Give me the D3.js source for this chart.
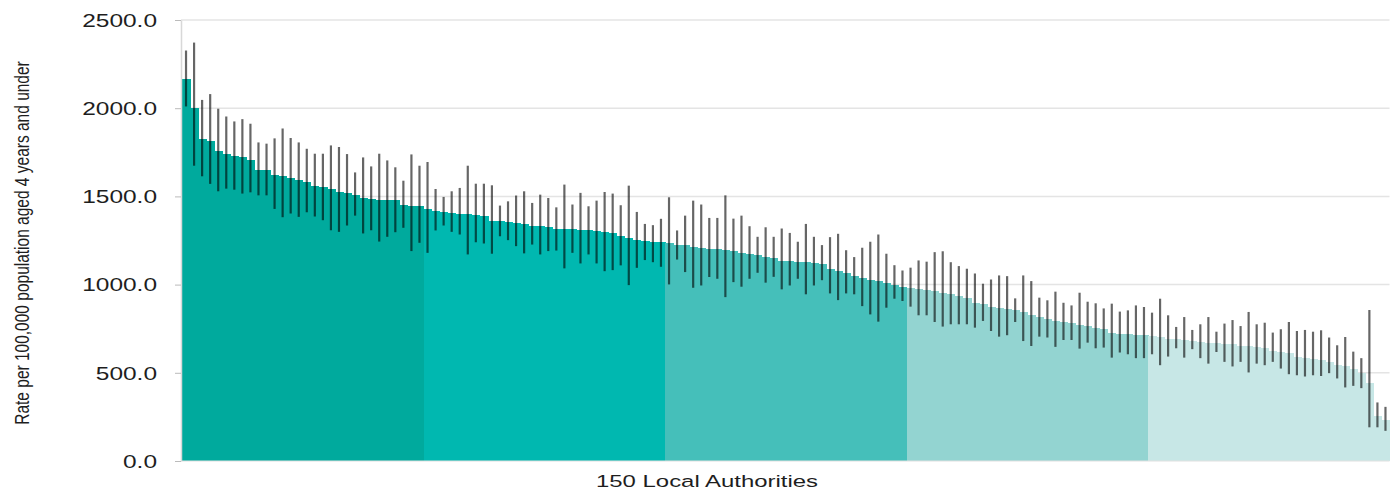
<!DOCTYPE html>
<html>
<head>
<meta charset="utf-8">
<script src="https://cdn.jsdelivr.net/npm/d3@7"></script>
<style>
  html, body { margin: 0; padding: 0; background: #fff; }
  svg { display: block; }
  text { font-family: "Liberation Sans", Arial, sans-serif; }
</style>
</head>
<body>
<svg id="chart" width="1391" height="495"></svg>
<script>
// ---- data ----
const yTicks = [0, 500, 1000, 1500, 2000, 2500];
const xLabel = "150 Local Authorities";
const yLabel = "Rate per 100,000 population aged 4 years and under";
const groupColors = ["#00aa9d", "#00b8b0", "#45bfba", "#93d4d1", "#c7e7e6"];

const rates = [
  2165, 2000, 1825, 1816, 1755, 1742, 1727, 1721, 1708, 1652,
  1648, 1619, 1618, 1605, 1591, 1582, 1561, 1554, 1542, 1525,
  1522, 1510, 1491, 1484, 1480, 1479, 1477, 1450, 1448, 1444,
  1429, 1420, 1412, 1406, 1403, 1399, 1395, 1391, 1359, 1358,
  1356, 1350, 1346, 1335, 1331, 1327, 1318, 1316, 1313, 1311,
  1307, 1303, 1297, 1290, 1274, 1265, 1252, 1246, 1242, 1240,
  1233, 1227, 1222, 1214, 1208, 1203, 1199, 1195, 1188, 1180,
  1175, 1167, 1158, 1152, 1134, 1131, 1129, 1127, 1124, 1114,
  1090, 1076, 1063, 1048, 1035, 1025, 1020, 1007, 995, 986,
  979, 973, 969, 963, 954, 945, 935, 926, 898, 888,
  875, 869, 864, 856, 847, 826, 816, 803, 794, 788,
  781, 771, 765, 756, 747, 724, 720, 718, 717, 716,
  706, 704, 694, 690, 686, 680, 672, 671, 667, 666,
  662, 653, 652, 648, 643, 624, 618, 611, 587, 583,
  577, 573, 562, 545, 536, 520, 500, 440, 255, 230
];

const upper = [
  2327, 2372, 2047, 2080, 1997, 1953, 1925, 1938, 1912, 1806,
  1799, 1829, 1885, 1831, 1806, 1770, 1742, 1742, 1789, 1780,
  1740, 1636, 1721, 1670, 1742, 1704, 1665, 1589, 1738, 1674,
  1695, 1542, 1497, 1529, 1548, 1674, 1572, 1572, 1563, 1448,
  1472, 1505, 1529, 1463, 1510, 1491, 1438, 1567, 1454, 1520,
  1444, 1476, 1525, 1516, 1450, 1561, 1412, 1344, 1337, 1373,
  1495, 1307, 1391, 1476, 1454, 1378, 1378, 1506, 1374, 1391,
  1331, 1271, 1325, 1271, 1318, 1293, 1243, 1344, 1271, 1224,
  1269, 1288, 1195, 1156, 1209, 1243, 1284, 1175, 1110, 1080,
  1096, 1137, 1130, 1184, 1189, 1127, 1105, 1090, 1063, 1005,
  1029, 1052, 1048, 922, 1052, 1020, 926, 911, 960, 897,
  882, 954, 903, 894, 865, 892, 847, 854, 882, 873,
  841, 920, 826, 760, 816, 743, 775, 816, 733, 779,
  799, 765, 845, 775, 784, 728, 747, 788, 737, 743,
  733, 741, 700, 656, 703, 620, 583, 856, 332, 307
];

const lower = [
  2010, 1674, 1614, 1571, 1529, 1544, 1538, 1516, 1523, 1506,
  1506, 1429, 1382, 1403, 1384, 1410, 1386, 1365, 1308, 1299,
  1335, 1391, 1290, 1308, 1244, 1271, 1297, 1322, 1190, 1237,
  1180, 1307, 1335, 1299, 1284, 1171, 1240, 1233, 1175, 1274,
  1252, 1218, 1177, 1227, 1171, 1190, 1193, 1092, 1180, 1120,
  1171, 1120, 1076, 1082, 1109, 997, 1095, 1139, 1127, 1101,
  1001, 1142, 1071, 982, 995, 1043, 1033, 929, 1014, 988,
  1033, 1067, 1011, 1044, 973, 995, 1033, 945, 995, 1025,
  950, 912, 950, 945, 878, 831, 790, 869, 920, 907,
  875, 826, 826, 788, 762, 775, 775, 775, 756, 794,
  737, 705, 713, 788, 680, 652, 705, 700, 647, 686,
  686, 637, 671, 639, 643, 586, 615, 605, 583, 583,
  605, 543, 592, 639, 586, 634, 583, 552, 618, 562,
  536, 562, 502, 552, 543, 562, 524, 492, 486, 479,
  486, 482, 498, 468, 417, 426, 413, 191, 191, 171
];

// ---- chart ----
const svg = d3.select("#chart");
const mLeft = 182, mRight = 1389.5, mTop = 20, mBottom = 461;
const textScale = 1.4;

const x = d3.scaleBand().domain(d3.range(rates.length)).range([mLeft, mRight]).padding(0);
const y = d3.scaleLinear().domain([0, 2500]).range([mBottom, mTop]);

// gridlines
svg.append("g").selectAll("line").data(yTicks.filter(d => d > 0)).join("line")
  .attr("x1", mLeft - 1).attr("x2", mRight)
  .attr("y1", d => y(d)).attr("y2", d => y(d))
  .attr("stroke", "#e4e4e4").attr("stroke-width", 1.5);

// bars
svg.append("g").attr("shape-rendering", "crispEdges")
  .selectAll("rect").data(rates).join("rect")
  .attr("x", (d, i) => x(i))
  .attr("width", x.bandwidth() + 0.6)
  .attr("y", d => y(d))
  .attr("height", d => y(0) - y(d))
  .attr("fill", (d, i) => groupColors[Math.floor(i / 30)]);

// error bars
svg.append("g").selectAll("line").data(rates).join("line")
  .attr("x1", (d, i) => x(i) + x.bandwidth() / 2)
  .attr("x2", (d, i) => x(i) + x.bandwidth() / 2)
  .attr("y1", (d, i) => y(upper[i]))
  .attr("y2", (d, i) => y(lower[i]))
  .attr("stroke", "#000").attr("stroke-opacity", 0.6).attr("stroke-width", 2.2);

// y axis
const yAxis = svg.append("g").attr("transform", `translate(${mLeft - 1},0)`)
  .call(d3.axisLeft(y).tickValues(yTicks).tickFormat(d3.format(".1f")).tickSize(6).tickSizeOuter(0));
yAxis.select(".domain").attr("stroke", "#d8d8d8").attr("stroke-width", 1.5);
yAxis.selectAll(".tick line").attr("stroke", "#bbbbbb");
yAxis.selectAll(".tick text")
  .attr("x", -24 / textScale)
  .attr("dy", "0.36em")
  .attr("transform", `scale(${textScale},1)`)
  .attr("font-size", 17.5)
  .attr("fill", "#1e1e1e")
  .style("font-family", "'Liberation Sans', Arial, sans-serif");

// x axis baseline
svg.append("line")
  .attr("x1", mLeft - 1).attr("x2", mRight)
  .attr("y1", y(0)).attr("y2", y(0))
  .attr("stroke", "#e0e0e0").attr("stroke-width", 1);

// x label
svg.append("text")
  .attr("transform", `translate(707,487) scale(1.45,1)`)
  .attr("text-anchor", "middle")
  .attr("font-size", 16.5)
  .attr("fill", "#1e1e1e")
  .text(xLabel);

// y label
svg.append("text")
  .attr("transform", `translate(29,${243}) scale(1.3,1) rotate(-90)`)
  .attr("text-anchor", "middle")
  .attr("font-size", 15.5)
  .attr("fill", "#1e1e1e")
  .text(yLabel);
</script>
</body>
</html>
